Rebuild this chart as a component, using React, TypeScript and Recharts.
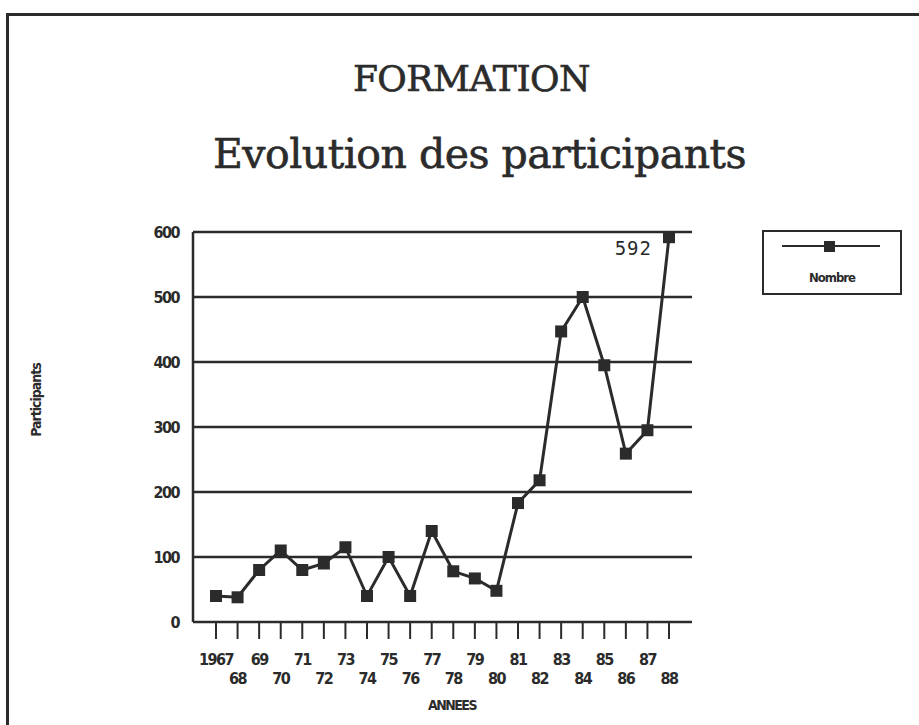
import { LineChart, Line, XAxis, YAxis, CartesianGrid, LabelList } from 'recharts';

const years = ['1967', '68', '69', '70', '71', '72', '73', '74', '75', '76', '77', '78', '79', '80', '81', '82', '83', '84', '85', '86', '87', '88'];
const participants = [40, 38, 80, 110, 80, 90, 115, 40, 100, 40, 140, 78, 67, 48, 183, 218, 447, 500, 395, 259, 295, 592];
const yTicks = [0, 100, 200, 300, 400, 500, 600];

const chartData = years.map((y, i) => ({ year: y, Nombre: participants[i] }));

const ink = '#2b2b2b';
const blockFont = '"DejaVu Sans Condensed", "DejaVu Sans", sans-serif';

// square markers like the old plotter
function SquareDot(props: any) {
    const { cx, cy } = props;
    if (cx == null || cy == null) return null;
    return <rect x={cx - 6} y={cy - 6} width={12} height={12} fill={ink} />;
}

// staggered year labels, odd ones drop to a second row
function YearTick(props: any) {
    const { x, y, payload, index } = props;
    const low = index % 2 === 1;
    return (
        <text x={x} y={y + (low ? 43 : 24)} textAnchor="middle" fill={ink}
            fontFamily={blockFont} fontWeight="bold" fontSize={16} letterSpacing={-1.5}>
            {payload.value}
        </text>
    );
}

function PeakLabel(props: any) {
    const { x, y, index } = props;
    if (index !== participants.length - 1) return null;
    return (
        <text x={x - 17} y={y + 18} textAnchor="end" fill={ink}
            fontFamily='"DejaVu Sans Mono", monospace' fontSize={19} letterSpacing={1}>
            {participants[index]}
        </text>
    );
}

function LegendBox() {
    return (
        <div style={{ position: 'absolute', left: 762, top: 230, width: 136, height: 61, border: `2px solid ${ink}`, background: '#fff' }}>
            <svg width={136} height={30} style={{ position: 'absolute', left: 0, top: 0 }}>
                <line x1={18} y1={14} x2={116} y2={14} stroke={ink} strokeWidth={2} />
                <rect x={60} y={9} width={11} height={11} fill={ink} />
            </svg>
            <div style={{ position: 'absolute', top: 38, width: '100%', textAlign: 'center', fontFamily: blockFont,
                fontWeight: 'bold', fontSize: 13, letterSpacing: -1, color: ink }}>
                Nombre
            </div>
        </div>
    );
}

export default function App() {
    return (
        <div style={{ position: 'absolute', left: 0, top: 0, width: 919, height: 725, background: '#fff', overflow: 'hidden' }}>
            {/* frame of the scanned page */}
            <div style={{ position: 'absolute', left: 6, top: 13, width: 913, height: 3, background: ink }} />
            <div style={{ position: 'absolute', left: 6, top: 13, width: 3, height: 712, background: ink }} />

            <div style={{ position: 'absolute', left: 12, top: 58, width: 919, textAlign: 'center', fontFamily: '"DejaVu Serif", serif',
                fontSize: 36, color: ink, letterSpacing: -0.5, WebkitTextStroke: '0.6px #2b2b2b' }}>
                FORMATION
            </div>
            <div style={{ position: 'absolute', left: 20, top: 130, width: 919, textAlign: 'center', fontFamily: '"DejaVu Serif", serif',
                fontSize: 41, color: ink, letterSpacing: -0.5, WebkitTextStroke: '0.6px #2b2b2b' }}>
                Evolution des participants
            </div>

            <div style={{ position: 'absolute', left: 36, top: 400, transform: 'translate(-50%, -50%) rotate(-90deg)',
                fontFamily: blockFont, fontWeight: 'bold', fontSize: 14, letterSpacing: -1, color: ink, whiteSpace: 'nowrap' }}>
                Participants
            </div>
            <div style={{ position: 'absolute', left: 452, top: 705, transform: 'translate(-50%, -50%)',
                fontFamily: blockFont, fontWeight: 'bold', fontSize: 14, letterSpacing: -1.5, color: ink }}>
                ANNEES
            </div>

            <LineChart width={919} height={725} data={chartData}
                margin={{ top: 232, right: 227, bottom: 43, left: 133 }}
                style={{ position: 'absolute', left: 0, top: 0 }}>
                <CartesianGrid vertical={false} stroke={ink} strokeWidth={2.5} />
                <XAxis dataKey="year" interval={0} padding={{ left: 23, right: 23 }} height={60}
                    axisLine={false} tickLine={{ stroke: ink, strokeWidth: 2 }} tickSize={17}
                    tick={(p: any) => <YearTick {...p} />} />
                <YAxis domain={[0, 600]} ticks={yTicks} width={60} interval={0}
                    axisLine={{ stroke: ink, strokeWidth: 2.5 }} tickLine={false} tickMargin={8}
                    tick={{ fill: ink, fontFamily: blockFont, fontWeight: 'bold', fontSize: 16, letterSpacing: -1.5 }} />
                <YAxis yAxisId="frame" orientation="right" domain={[0, 600]} width={0} tick={false} tickLine={false}
                    axisLine={{ stroke: ink, strokeWidth: 2.5 }} />
                <Line type="linear" dataKey="Nombre" stroke={ink} strokeWidth={3} isAnimationActive={false}
                    dot={(p: any) => <SquareDot key={p.index} {...p} />} activeDot={false}>
                    <LabelList dataKey="Nombre" content={(p: any) => <PeakLabel {...p} />} />
                </Line>
            </LineChart>
            <LegendBox />
        </div>
    );
}
